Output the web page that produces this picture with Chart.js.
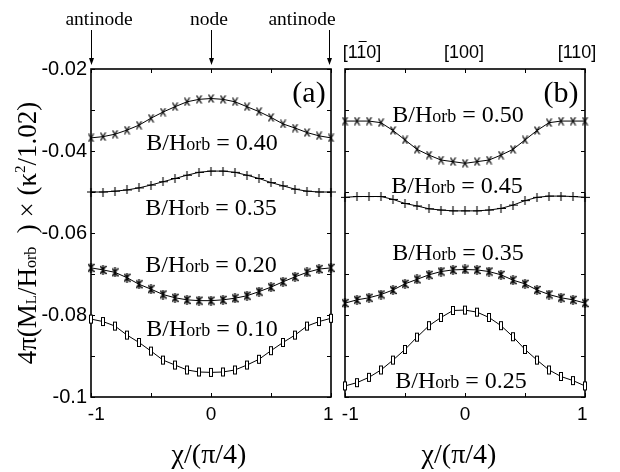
<!DOCTYPE html>
<html>
<head>
<meta charset="utf-8">
<script src="https://cdn.jsdelivr.net/npm/chart.js@4.4.1/dist/chart.umd.min.js"></script>
<style>
  html, body { margin: 0; padding: 0; background: #fff; }
  #wrap { position: relative; width: 620px; height: 472px; overflow: hidden; background: #fff; }
  #ca { position: absolute; left: 0; top: 0; }
  #cb { position: absolute; left: 320px; top: 0; }
</style>
</head>
<body>
<div id="wrap">
  <canvas id="ca" width="346" height="472"></canvas>
  <canvas id="cb" width="300" height="472"></canvas>
</div>
<script>
/* data: chi/(pi/4) from -1 to 1 */
const chi = [-1, -0.9, -0.8, -0.7, -0.6, -0.5, -0.4, -0.3, -0.2, -0.1, 0,
             0.1, 0.2, 0.3, 0.4, 0.5, 0.6, 0.7, 0.8, 0.9, 1];

// panel (a)
const a040 = [-0.0368, -0.0365, -0.0359, -0.0349, -0.0337, -0.0320, -0.0305, -0.0292, -0.0280, -0.0274, -0.0272,
              -0.0274, -0.0280, -0.0292, -0.0304, -0.0318, -0.0334, -0.0344, -0.0355, -0.0363, -0.0368];
const a035 = [-0.0500, -0.0500, -0.0498, -0.0495, -0.0490, -0.0483, -0.0475, -0.0467, -0.0459, -0.0452, -0.0449,
              -0.0449, -0.0452, -0.0459, -0.0467, -0.0477, -0.0485, -0.0493, -0.0498, -0.0500, -0.0500];
const a020 = [-0.0685, -0.0690, -0.0696, -0.0709, -0.0725, -0.0737, -0.0750, -0.0758, -0.0763, -0.0765, -0.0765,
              -0.0763, -0.0759, -0.0753, -0.0743, -0.0732, -0.0719, -0.0707, -0.0696, -0.0688, -0.0685];
const a010 = [-0.0810, -0.0816, -0.0827, -0.0849, -0.0867, -0.0888, -0.0910, -0.0922, -0.0934, -0.0939, -0.0940,
              -0.0939, -0.0934, -0.0922, -0.0908, -0.0887, -0.0867, -0.0849, -0.0827, -0.0816, -0.0808];

// panel (b)
const b050 = [-0.0327, -0.0327, -0.0327, -0.0331, -0.0350, -0.0373, -0.0396, -0.0410, -0.0422, -0.0426, -0.0430,
              -0.0426, -0.0422, -0.0410, -0.0396, -0.0373, -0.0350, -0.0331, -0.0327, -0.0327, -0.0327];
const b045 = [-0.0513, -0.0511, -0.0511, -0.0511, -0.0518, -0.0528, -0.0534, -0.0541, -0.0544, -0.0546, -0.0546,
              -0.0546, -0.0544, -0.0540, -0.0532, -0.0521, -0.0513, -0.0510, -0.0510, -0.0511, -0.0513];
const b035 = [-0.0771, -0.0763, -0.0758, -0.0750, -0.0739, -0.0724, -0.0713, -0.0702, -0.0694, -0.0690, -0.0689,
              -0.0690, -0.0694, -0.0702, -0.0715, -0.0724, -0.0739, -0.0750, -0.0758, -0.0763, -0.0771];
const b025 = [-0.0973, -0.0965, -0.0952, -0.0934, -0.0910, -0.0884, -0.0854, -0.0826, -0.0806, -0.0789, -0.0788,
              -0.0793, -0.0806, -0.0826, -0.0853, -0.0884, -0.0910, -0.0934, -0.0950, -0.0960, -0.0973];

const xTicks = [-1, -0.5, 0, 0.5, 1];
const xLabels = ['  -1', '', '0', '', '1 '];
const yTicks = [-0.1, -0.09, -0.08, -0.07, -0.06, -0.05, -0.04, -0.03, -0.02];
const yLabels = ['-0.1', '', '-0.08', '', '-0.06', '', '-0.04', '', '-0.02'];

const SANS = '"Liberation Sans", Arial, sans-serif';
const SERIF = '"Liberation Serif", "Times New Roman", serif';

/* marker glyphs */
function mark(w, h, fn) {
  const c = document.createElement('canvas');
  c.width = w; c.height = h;
  const g = c.getContext('2d');
  g.strokeStyle = '#000';
  g.lineWidth = 1.3;
  fn(g);
  return c;
}
const mX = mark(7, 9, g => {
  g.beginPath(); g.moveTo(1, 0.5); g.lineTo(6, 8.5); g.moveTo(6, 0.5); g.lineTo(1, 8.5); g.stroke();
});
const mPlus = mark(9, 9, g => {
  g.lineWidth = 1.1;
  g.beginPath(); g.moveTo(0, 4.5); g.lineTo(9, 4.5); g.moveTo(4.5, 0); g.lineTo(4.5, 9); g.stroke();
});
const mStar = mark(7, 10, g => {
  g.lineWidth = 1.4;
  g.beginPath(); g.moveTo(0.5, 1); g.lineTo(6.5, 9); g.moveTo(6.5, 1); g.lineTo(0.5, 9);
  g.moveTo(3.5, 0); g.lineTo(3.5, 10); g.stroke();
});
const mRect = mark(6, 11, g => {
  g.lineWidth = 1;
  g.fillStyle = '#fff'; g.fillRect(1, 1, 4, 9);
  g.strokeRect(1.5, 1.5, 3, 8);
});

function series(vals, style) {
  return {
    data: chi.map((x, i) => ({ x, y: vals[i] })),
    borderColor: '#000', borderWidth: 1, tension: 0,
    pointStyle: style, pointRadius: 5, clip: false, fill: false
  };
}

/* box with inward ticks on all four sides */
const framePlugin = {
  id: 'frame',
  beforeDatasetsDraw(chart) {
    const { ctx, chartArea: a, scales } = chart;
    ctx.save();
    ctx.strokeStyle = '#000';
    ctx.lineWidth = 1;
    const L = 4;
    ctx.beginPath();
    xTicks.forEach(v => {
      const px = Math.round(scales.x.getPixelForValue(v)) + 0.5;
      ctx.moveTo(px, a.bottom); ctx.lineTo(px, a.bottom - L);
      ctx.moveTo(px, a.top); ctx.lineTo(px, a.top + L);
    });
    yTicks.forEach(v => {
      const py = Math.round(scales.y.getPixelForValue(v)) + 0.5;
      ctx.moveTo(a.left, py); ctx.lineTo(a.left + L, py);
      ctx.moveTo(a.right, py); ctx.lineTo(a.right - L, py);
    });
    ctx.stroke();
    ctx.lineWidth = 1.6;
    ctx.strokeRect(a.left, a.top, a.right - a.left, a.bottom - a.top);
    ctx.restore();
  }
};

// draws pieces of text with their own font sizes on one baseline
function rich(ctx, parts, cx, y) {
  let w = 0;
  parts.forEach(p => { ctx.font = p.font; p.w = ctx.measureText(p.t).width; w += p.w; });
  let x = cx - w / 2;
  ctx.textAlign = 'left';
  ctx.textBaseline = 'alphabetic';
  parts.forEach(p => { ctx.font = p.font; ctx.fillText(p.t, x, y + (p.dy || 0)); x += p.w; });
}
function bLabel(ctx, val, cx, y) {
  rich(ctx, [
    { t: 'B/H', font: '24px ' + SERIF },
    { t: 'orb', font: '18px ' + SERIF },
    { t: ' = ' + val, font: '24px ' + SERIF }
  ], cx, y);
}
function arrow(ctx, x, y0, y1) {
  ctx.beginPath(); ctx.moveTo(x + 0.5, y0); ctx.lineTo(x + 0.5, y1 - 6); ctx.stroke();
  ctx.beginPath(); ctx.moveTo(x - 2, y1 - 7); ctx.lineTo(x + 3, y1 - 7); ctx.lineTo(x + 0.5, y1); ctx.closePath(); ctx.fill();
}

const textA = {
  id: 'textA',
  afterDraw(chart) {
    const ctx = chart.ctx;
    ctx.save();
    ctx.fillStyle = '#000'; ctx.strokeStyle = '#000'; ctx.lineWidth = 1;
    ctx.textAlign = 'center'; ctx.textBaseline = 'alphabetic';
    ctx.font = '19.5px ' + SERIF;
    ctx.fillText('antinode', 99, 25);
    ctx.fillText('node', 209, 25);
    ctx.fillText('antinode', 302, 25);
    arrow(ctx, 91, 30, 65);
    arrow(ctx, 211, 30, 65);
    arrow(ctx, 329, 30, 65);
    ctx.font = '30px ' + SERIF;
    ctx.fillText('(a)', 309, 102);
    bLabel(ctx, '0.40', 212, 150);
    bLabel(ctx, '0.35', 211, 215);
    bLabel(ctx, '0.20', 211, 272);
    bLabel(ctx, '0.10', 212, 336);
    ctx.textAlign = 'center';
    ctx.font = '28px ' + SERIF;
    ctx.fillText('\u03c7/(\u03c0/4)', 209, 463);
    // y title
    ctx.translate(36, 233);
    ctx.rotate(-Math.PI / 2);
    rich(ctx, [
      { t: '4\u03c0(M', font: '27px ' + SERIF },
      { t: 'L', font: '15px ' + SERIF },
      { t: '/H', font: '27px ' + SERIF },
      { t: 'orb', font: '16px ' + SERIF },
      { t: '  ) \u00d7 (\u03ba', font: '27px ' + SERIF },
      { t: '2', font: '15px ' + SERIF, dy: -11 },
      { t: '/1.02)', font: '27px ' + SERIF }
    ], 0, 0);
    ctx.restore();
  }
};

const textB = {
  id: 'textB',
  afterDraw(chart) {
    const ctx = chart.ctx;
    const ox = 320;
    ctx.save();
    ctx.fillStyle = '#000'; ctx.strokeStyle = '#000'; ctx.lineWidth = 1;
    ctx.textAlign = 'center'; ctx.textBaseline = 'alphabetic';
    ctx.font = '18px ' + SANS;
    ctx.fillText('[110]', 362 - ox, 58);
    // bar over the second "1"
    const wAll = ctx.measureText('[110]').width;
    const wPre = ctx.measureText('[1').width;
    const w1 = ctx.measureText('1').width;
    const x0 = 362 - ox - wAll / 2 + wPre;
    ctx.beginPath(); ctx.moveTo(x0 + 1, 41.5); ctx.lineTo(x0 + w1 - 1, 41.5); ctx.stroke();
    ctx.fillText('[100]', 464 - ox, 58);
    ctx.fillText('[110]', 577 - ox, 58);
    ctx.font = '30px ' + SERIF;
    ctx.fillText('(b)', 561 - ox, 102);
    bLabel(ctx, '0.50', 458 - ox, 122);
    bLabel(ctx, '0.45', 457 - ox, 193);
    bLabel(ctx, '0.35', 458 - ox, 260);
    bLabel(ctx, '0.25', 461 - ox, 388);
    ctx.textAlign = 'center';
    ctx.font = '28px ' + SERIF;
    ctx.fillText('\u03c7/(\u03c0/4)', 459 - ox, 463);
    ctx.restore();
  }
};

function xScale() {
  return {
    type: 'linear', min: -1, max: 1,
    afterBuildTicks: s => { s.ticks = xTicks.map(v => ({ value: v })); },
    ticks: {
      autoSkip: false, maxRotation: 0, color: '#000', padding: 6,
      font: { family: SANS, size: 19 },
      callback: (v) => xLabels[xTicks.indexOf(v)] ?? ''
    },
    grid: { display: false, drawTicks: false },
    border: { display: false },
    afterFit: s => { s.height = 75; }
  };
}
function yScale(show, width) {
  return {
    type: 'linear', min: -0.1, max: -0.02,
    afterBuildTicks: s => { s.ticks = yTicks.map(v => ({ value: v })); },
    ticks: {
      display: show,
      autoSkip: false, color: '#000', padding: 4,
      font: { family: SANS, size: 20 },
      callback: (v) => {
        const i = yTicks.findIndex(t => Math.abs(t - v) < 1e-9);
        return i >= 0 ? yLabels[i] : '';
      }
    },
    grid: { display: false, drawTicks: false },
    border: { display: false },
    afterFit: s => { s.width = width; }
  };
}

function panel(id, sets, padding, showY, yWidth, textPlugin) {
  return new Chart(document.getElementById(id), {
    type: 'line',
    data: { datasets: sets },
    options: {
      responsive: false, animation: false, events: [],
      layout: { padding },
      plugins: { legend: { display: false }, tooltip: { enabled: false } },
      scales: { x: xScale(), y: yScale(showY, yWidth) }
    },
    plugins: [framePlugin, textPlugin]
  });
}

panel('ca', [series(a040, mX), series(a035, mPlus), series(a020, mStar), series(a010, mRect)],
  { top: 69, right: 15, left: 0, bottom: 0 }, true, 91, textA);
panel('cb', [series(b050, mX), series(b045, mPlus), series(b035, mStar), series(b025, mRect)],
  { top: 69, right: 35, left: 0, bottom: 0 }, false, 25, textB);
</script>
</body>
</html>
